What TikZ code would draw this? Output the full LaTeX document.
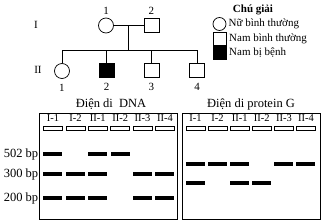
\documentclass[tikz,border=0pt]{standalone}
\usepackage{fontspec}
\setmainfont{Liberation Serif}
\usetikzlibrary{positioning, calc}

\begin{document}
\begin{tikzpicture}[x=1pt, y=-1pt, line width=0.7pt,
    female/.style={draw, circle, minimum size=15pt, inner sep=0pt},
    male/.style={draw, rectangle, minimum width=15pt, minimum height=14pt, inner sep=0pt},
    keysym/.style={draw, minimum size=13pt, inner sep=0pt},
    txt/.style={font=\fontsize{11}{12}\selectfont, inner sep=1pt},
    title/.style={font=\fontsize{12.5}{14}\selectfont, inner sep=1pt},
    lane/.style={font=\fontsize{10.5}{12}\selectfont, inner sep=0pt},
    well/.style={draw, line width=0.6pt, minimum width=19pt, minimum height=4pt, inner sep=0pt},
    band/.style={fill=black, minimum width=19pt, minimum height=4pt, inner sep=0pt},
    gel/.style={draw, line width=0.8pt, anchor=north west, minimum width=138pt, minimum height=106pt, inner sep=0pt}]
  \useasboundingbox (0,0) rectangle (325,223);

  % pedigree
  \node[txt] (gen1) at (36,25) {I};
  \node[txt] (gen2) at (38,70) {II};

  \node[female] (i1) at (106,25.5) {};
  \node[male]   (i2) at (151.5,25.5) {};
  \node[txt] (i1n) at (106,11) {1};
  \node[txt] (i2n) at (151.5,11) {2};

  \node[female]         (ii1) at (62,71) {};
  \node[male, fill=black] (ii2) at (106.5,70) {};
  \node[male]           (ii3) at (151.5,70) {};
  \node[male]           (ii4) at (197,70) {};
  \foreach \k in {1,...,4}
    \node[txt] (ii\k n) at ($(ii\k)+(0,17)$) {\k};

  \coordinate (mate) at ($(i1)!0.5!(i2)$);
  \coordinate (sib) at (mate |- 0,50);
  \draw (i1) -- (i2);
  \draw (mate) -- (sib);
  \draw (ii1 |- sib) -- (ii4 |- sib);
  \foreach \k in {1,...,4}
    \draw (ii\k |- sib) -- (ii\k);

  % legend
  \node[txt, font=\fontsize{11}{12}\selectfont\bfseries] (keyhead) at (253,10) {Chú giải};
  \node[keysym, circle] (kf) at (219.5,24) {};
  \node[keysym] (km) at (219.5,38.5) {};
  \node[keysym, fill=black] (ka) at (219.5,52.5) {};
  \node[txt, anchor=west, inner xsep=2pt] (kft) at (kf.east) {Nữ bình thường};
  \node[txt, anchor=west, inner xsep=2.5pt] (kmt) at (km.east) {Nam bình thường};
  \node[txt, anchor=west, inner xsep=2.5pt] (kat) at (ka.east) {Nam bị bệnh};

  % gels
  \node[gel] (dna) at (39,113) {};
  \node[gel] (prot) at (182,113) {};
  \node[title] (dnat) at (111,104) {Điện di\ \ DNA};
  \node[title] (prott) at (251,104.5) {Điện di protein G};

  \foreach \name [count=\i] in {I-1,I-2,II-1,II-2,II-3,II-4} {
    \node[well] (dw\i) at ({53+22.4*(\i-1)},128) {};
    \node[lane] (dl\i) at ({53+22.4*(\i-1)},118.5) {\name};
    \node[well] (pw\i) at ({195.5+22.1*(\i-1)},128) {};
    \node[lane] (pl\i) at ({195.5+22.1*(\i-1)},118.5) {\name};
  }

  \foreach \bp/\y in {502/154, 300/174, 200/198}
    \node[title, anchor=east, inner sep=0.5pt] (bp\bp) at (39,\y) {\bp\ bp};

  % DNA bands
  \foreach \l/\y in {1/154, 3/154, 4/154,
                     1/174, 2/174, 3/174, 5/174, 6/174,
                     1/198, 2/198, 3/198, 5/198, 6/198}
    \node[band] (db\l-\y) at ({53+22.4*(\l-1)},\y) {};

  % protein bands
  \foreach \l/\y in {1/164, 2/164, 3/164, 5/164, 6/164,
                     1/183, 3/183, 4/183}
    \node[band] (pb\l-\y) at ({195.5+22.1*(\l-1)},\y) {};
\end{tikzpicture}
\end{document}
